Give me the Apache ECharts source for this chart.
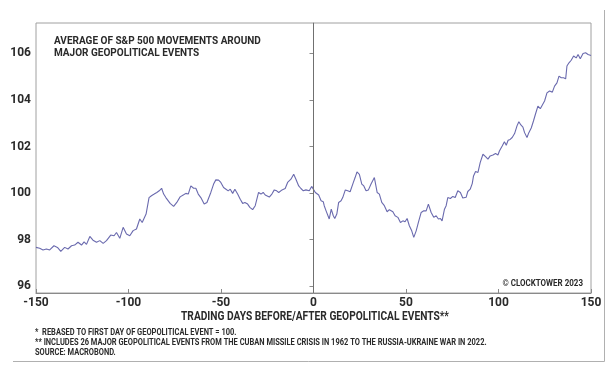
<!DOCTYPE html>
<html>
<head>
<meta charset="utf-8">
<script src="https://cdn.jsdelivr.net/npm/echarts@6/dist/echarts.min.js"></script>
<style>
html,body{margin:0;padding:0;background:#fff;}
#c{width:609px;height:371px;}
</style>
</head>
<body>
<div id="c"></div>
<script>
// Trading days relative to event (x) and rebased S&P 500 average (y)
const days = [
-150,-148.0,-146.2,-144.4,-142.6,-140.3,-138.4,-136.6,-134.5,-132.7,-130.8,-129.1,-127.3,-125.4,-124.0,-122.7,-120.9,-119.2,-117.3,-115.5,-113.7,-111.9,-109.6,-107.8,-106.5,-104.7,-102.9,-101.1,-99.3,-97.5,-95.7,-93.9,-92.6,-90.5,-88.9,-87.6,-86.1,-84.7,-83.4,-82.1,-81.0,-79.8,-78.9,-77.5,-75.6,-73.9,-72.1,-70.2,-69.0,-67.7,-66.3,-64.8,-63.6,-62.3,-60.9,-59.1,-57.6,-55.5,-54.0,-52.8,-51.3,-50.1,-48.6,-47.3,-46.1,-45.0,-43.7,-42.5,-41.0,-39.6,-38.3,-37.1,-35.6,-34.4,-33.8,-32.9,-31.5,-29.7,-28.4,-27.2,-26.1,-25.3,-23.9,-22.5,-21.2,-19.9,-18.8,-17.0,-15.3,-14.0,-13.1,-12.2,-10.7,-9.5,-8.0,-6.8,-5.5,-4.1,-2.3,-1.0,0,1,1.7,2.8,4.1,5.3,5.8,6.8,7.7,8.5,9.6,10.7,11.5,12.6,13.6,14.9,15.8,17.2,18.5,19.8,20.8,21.5,22.5,23.5,24.8,26.1,27.2,28.4,29.7,31.1,32.9,34.4,35.6,36.9,38.3,39.8,41.0,42.9,44.1,45.6,47.0,48.3,49.5,50.6,51.8,53.1,54.2,55.5,56.7,58.2,59.6,60.9,62.1,63.6,65.0,66.3,67.5,68.6,69.5,70.8,71.7,72.6,74.0,75.3,76.6,78.0,79.4,80.7,82.5,83.4,84.7,85.8,86.5,87.6,88.9,90.1,91.6,93.0,94.3,95.5,97.0,98.4,99.7,100.5,102.0,103.2,104.2,105.2,106.3,107.4,108.7,110.0,111.0,112.1,113.2,114.1,115.4,116.4,117.7,118.9,120.0,121.3,122.6,123.6,124.9,126.2,127.6,129.1,130.3,131.6,132.7,133.9,135.2,136.3,137.0,138.1,139.3,140.6,142.0,143.0,144.2,145.7,147.1,148.4,150
];
const values = [
97.67,97.63,97.56,97.60,97.56,97.74,97.67,97.50,97.67,97.60,97.74,97.77,97.89,97.77,97.91,97.80,98.14,97.98,97.89,97.96,97.84,97.96,98.20,98.17,98.31,98.06,98.53,98.24,98.17,98.39,98.46,98.89,98.74,99.10,99.81,99.89,99.96,100.03,100.10,100.21,99.96,99.81,99.86,99.56,99.43,99.60,99.84,99.93,99.99,99.96,100.31,100.21,100.21,99.96,99.81,99.53,99.60,100.03,100.39,100.57,100.56,100.46,100.24,100.17,100.10,100.17,99.99,100.17,99.96,99.74,99.56,99.60,99.53,99.39,99.39,99.29,99.46,100.03,99.96,100.03,99.92,100.00,99.83,99.96,100.14,100.10,100.03,100.14,100.20,100.46,100.39,100.60,100.81,100.60,100.31,100.20,100.10,100.14,100.10,100.29,100.22,100.03,99.96,99.92,99.67,99.63,99.46,99.24,99.17,98.89,99.31,99.03,98.91,99.10,99.60,99.67,99.81,100.14,100.10,100.06,100.10,100.45,100.67,100.91,100.81,100.39,100.31,100.10,100.14,100.39,100.67,100.03,99.96,99.60,99.46,99.20,99.29,99.20,99.03,98.96,98.74,98.81,98.77,98.91,98.60,98.38,98.10,98.38,98.74,99.17,99.24,99.24,99.53,99.17,98.96,99.03,98.89,98.91,98.81,99.31,99.46,99.81,99.77,99.86,99.81,100.10,100.03,99.79,99.82,100.07,100.17,100.41,100.74,100.93,100.89,101.31,101.67,101.57,101.46,101.60,101.64,101.70,101.64,101.81,102.03,102.21,102.06,102.27,102.31,102.39,102.56,102.89,103.07,102.93,102.84,102.60,102.39,102.60,102.80,103.10,103.40,103.74,103.63,103.66,103.96,104.31,104.39,104.34,104.60,104.74,105.03,104.96,104.96,104.91,105.46,105.60,105.71,105.89,105.81,105.96,105.77,106.00,106.03,105.96,105.91
];
const yTicks = [96, 98, 100, 102, 104, 106];
const xTicks = [-150, -100, -50, 0, 50, 100, 150];
const titleLines = ['AVERAGE OF S&P 500 MOVEMENTS AROUND', 'MAJOR GEOPOLITICAL EVENTS'];
const xName = 'TRADING DAYS BEFORE/AFTER GEOPOLITICAL EVENTS**';
const footnotes = [
  '*  REBASED TO FIRST DAY OF GEOPOLITICAL EVENT = 100.',
  '** INCLUDES 26 MAJOR GEOPOLITICAL EVENTS FROM THE CUBAN MISSILE CRISIS IN 1962 TO THE RUSSIA-UKRAINE WAR IN 2022.',
  'SOURCE: MACROBOND.'
];
const credit = '\u00A9 CLOCKTOWER 2023';

const FONT = 'Roboto, "Noto Sans", sans-serif';
const TXT = '#2a2a2a';

const chart = echarts.init(document.getElementById('c'), null, {renderer: 'canvas'});
const points = days.map((d, i) => [d, values[i]]);

function txt(text, x, y, size, sx, align) {
  return {
    type: 'text', x: x, y: y, scaleX: sx, scaleY: 1, silent: true,
    style: {text: text, font: 'bold ' + size + 'px ' + FONT, fill: TXT,
            textAlign: align || 'left', textVerticalAlign: 'middle'}
  };
}

chart.setOption({
  animation: false,
  backgroundColor: '#fff',
  textStyle: {fontFamily: FONT},
  grid: {left: 36, right: 18, top: 23, bottom: 78, show: true, borderColor: '#a0a0a0', borderWidth: 1},
  xAxis: {
    type: 'value', min: xTicks[0], max: xTicks[xTicks.length - 1], interval: 50,
    axisLine: {show: true, lineStyle: {color: '#8a8a8a', width: 1}},
    axisTick: {show: true, inside: true, length: 4, lineStyle: {color: '#8a8a8a'}},
    axisLabel: {fontFamily: FONT, fontSize: 12, fontWeight: 'bold', color: TXT, margin: 4},
    splitLine: {show: false}
  },
  yAxis: {
    type: 'value', min: 95.71, max: 107.31,
    axisLine: {show: true, lineStyle: {color: '#8a8a8a', width: 1}},
    axisTick: {show: true, inside: false, length: 4, customValues: yTicks, lineStyle: {color: '#8a8a8a'}},
    axisLabel: {fontFamily: FONT, fontSize: 12, fontWeight: 'bold', color: TXT, margin: 5, customValues: yTicks},
    splitLine: {show: false}
  },
  series: [{
    type: 'line',
    data: points,
    showSymbol: false,
    symbol: 'none',
    lineStyle: {color: '#6a6aae', width: 1.1},
    markLine: {
      silent: true, symbol: 'none', label: {show: false},
      lineStyle: {color: '#707070', width: 1, type: 'solid'},
      data: [{xAxis: 0}]
    }
  }],
  graphic: [
    txt(titleLines[0], 54, 41, 11.25, 0.89),
    txt(titleLines[1], 54, 53, 11.25, 0.89),
    txt(xName, 315, 317, 12, 0.85, 'center'),
    txt(credit, 583, 284, 9.5, 0.84, 'right'),
    txt(footnotes[0], 35, 333, 8.5, 0.88),
    txt(footnotes[1], 35, 343, 8.5, 0.88),
    txt(footnotes[2], 35, 353, 8.5, 0.88),
    {type: 'line', silent: true, shape: {x1: 13, y1: 361.5, x2: 604.5, y2: 361.5}, style: {stroke: '#b0b0b0', lineWidth: 1}},
    {type: 'line', silent: true, shape: {x1: 604.5, y1: 10, x2: 604.5, y2: 361.5}, style: {stroke: '#b0b0b0', lineWidth: 1}}
  ]
});
</script>
</body>
</html>
